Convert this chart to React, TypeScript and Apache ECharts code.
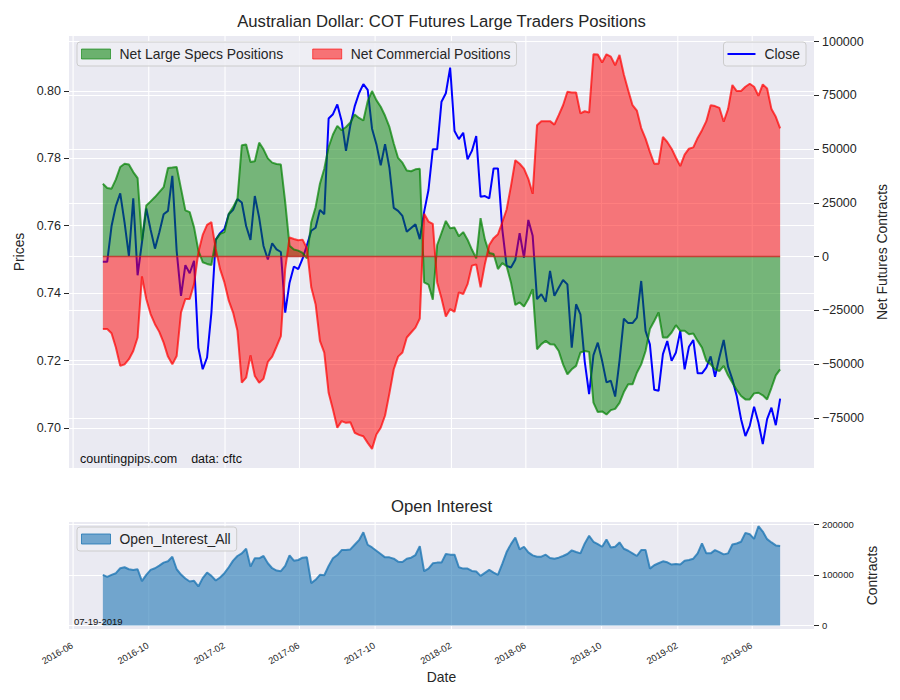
import React, { useEffect, useRef } from "react";
import * as echarts from "echarts";

// ---------------- data ----------------
const firstWeek = "2016-07-19";
const weekCount = 157;

const closeValues = [
  0.7493, 0.7493, 0.7599, 0.7659, 0.7696, 0.7609, 0.751, 0.7681, 0.7453, 0.755,
  0.7651, 0.7588, 0.7532, 0.758, 0.7634, 0.7644, 0.7748, 0.7525, 0.7392, 0.7483,
  0.7459, 0.7496, 0.7238, 0.7174, 0.7209, 0.7342, 0.7558, 0.7578, 0.759, 0.7634,
  0.7647, 0.7679, 0.7669, 0.7599, 0.7558, 0.7688, 0.7624, 0.754, 0.75, 0.7548,
  0.753, 0.7522, 0.7342, 0.7431, 0.7479, 0.7471, 0.7502, 0.7542, 0.7585, 0.7594,
  0.7647, 0.7634, 0.7918, 0.7931, 0.796, 0.7911, 0.7822, 0.7898, 0.7954, 0.7993,
  0.802, 0.8003, 0.7888, 0.7842, 0.7779, 0.7842, 0.7772, 0.7653, 0.7644, 0.7629,
  0.7582, 0.7593, 0.7604, 0.756, 0.7641, 0.7706, 0.7827, 0.7827, 0.7968, 0.7993,
  0.8069, 0.7881, 0.7857, 0.7876, 0.7797, 0.7822, 0.7866, 0.7686, 0.7688, 0.7681,
  0.777, 0.777, 0.759, 0.7481, 0.7476, 0.7499, 0.7578, 0.7505, 0.7617, 0.757,
  0.7382, 0.7397, 0.7374, 0.7466, 0.7392, 0.7416, 0.7439, 0.7426, 0.7238, 0.7367,
  0.7337, 0.7196, 0.71, 0.7216, 0.7253, 0.7199, 0.7135, 0.714, 0.7093, 0.7199,
  0.7324, 0.7311, 0.7311, 0.7327, 0.7436, 0.7288, 0.7248, 0.7113, 0.711, 0.7219,
  0.7258, 0.7199, 0.7224, 0.7288, 0.7174, 0.7241, 0.7261, 0.7162, 0.7162, 0.7179,
  0.7212, 0.7152, 0.7209, 0.7261, 0.7182, 0.7144, 0.7095, 0.7026, 0.6976, 0.7006,
  0.7063, 0.7016, 0.6952, 0.7026, 0.706, 0.7008, 0.7087,
];

const specsValues = [
  33900, 31900, 31600, 35900, 41700, 43200, 42800, 39300, 36500, 7500,
  23800, 25700, 27700, 30000, 32300, 41200, 41400, 41700, 31600, 21500,
  20700, 13700, 2800, -2600, -3400, -3900, 7900, 10600, 11400, 19900,
  23000, 26900, 51800, 52100, 44000, 44300, 53000, 49900, 45700, 43700,
  43100, 42800, 25300, 5100, 3300, 2800, 1700, -800, 16000, 23000,
  33900, 40900, 51000, 56800, 60800, 58800, 60300, 62400, 66100, 64500,
  63300, 72300, 77000, 72800, 69700, 65500, 60300, 52600, 45900, 43700,
  40100, 39700, 40600, 40900, -12000, -13000, -20000, 5400, 11000, 16600,
  13200, 13500, 9500, 11400, 7900, 3300, -800, 17900, 7900, 1700,
  1200, -5800, -3000, -4500, -12000, -22500, -21300, -23200, -19700, -15100,
  -43100, -40700, -39200, -40700, -40900, -43900, -50100, -54700, -52400, -50800,
  -44600, -43900, -44300, -67900, -72300, -72000, -73400, -71400, -70800, -68000,
  -63000, -59400, -59400, -54000, -50100, -43900, -33700, -29900, -26000, -37600,
  -37600, -35300, -31900, -34500, -34500, -36100, -35800, -39200, -42300, -48500,
  -50100, -52400, -53200, -50800, -55200, -58600, -62000, -64800, -66400, -66400,
  -63600, -63300, -64500, -66400, -61000, -55200, -52400,
];

const commercialValues = [
  -33700, -33700, -35600, -42300, -50800, -50100, -47700, -43900, -37600, -9200,
  -19700, -26700, -31400, -35000, -40000, -46500, -50100, -46200, -26000, -19700,
  -19700, -12800, 2000, 10100, 14800, 16000, 3600, -5800, -12000, -20500,
  -26000, -34500, -58600, -56300, -45900, -55500, -58600, -56800, -49000, -46500,
  -41800, -37000, -5800, 8900, 8200, 7600, 7900, 3900, -14300, -22100,
  -39200, -44600, -63300, -71100, -79600, -76500, -77300, -77000, -81900, -82900,
  -83500, -86600, -89400, -82700, -79600, -73900, -63600, -52400, -46500, -44600,
  -37600, -35300, -33000, -28800, 19900, 16300, 15200, -12000, -19400, -27800,
  -24400, -25700, -16600, -17400, -12800, -4200, -3600, -14300, -3400, 5400,
  8600, 10400, 16000, 21900, 32800, 44800, 43200, 40900, 36200, 29200,
  61100, 63000, 63000, 63000, 61400, 65800, 70400, 76700, 76300, 76300,
  66600, 67600, 67000, 94100, 94000, 90300, 94100, 93000, 89000, 93800,
  84700, 77400, 70400, 67900, 59800, 54900, 48700, 43200, 43200, 55700,
  53300, 50200, 46000, 42100, 47400, 50200, 50800, 55200, 58800, 63000,
  70400, 70000, 69200, 62700, 68600, 79800, 77000, 77000, 79000, 80400,
  79000, 74800, 80100, 78200, 68600, 65000, 59600,
];

const openInterestValues = [
  100000, 96100, 100000, 103300, 113100, 115000, 111100, 109800, 111100, 87600,
  100000, 109800, 113100, 118300, 124200, 126800, 135900, 111100, 100700, 92800,
  86900, 88200, 77100, 93500, 104600, 98000, 88900, 94800, 103300, 115000,
  128100, 137300, 142500, 151600, 116300, 132700, 132700, 137300, 122900, 113100,
  108500, 107200, 117600, 138600, 128100, 129400, 134000, 134600, 83700, 90200,
  100000, 99300, 117600, 132700, 139200, 149000, 149000, 150300, 159500, 168600,
  184300, 159500, 154200, 147700, 141200, 134600, 134600, 132000, 126100, 125500,
  132000, 134000, 139200, 156900, 107200, 112400, 122900, 124200, 124200, 141200,
  140000, 139900, 115000, 112400, 112400, 107800, 106500, 98000, 103900, 109800,
  104600, 100000, 121600, 145100, 160800, 173900, 150300, 155600, 144400, 138600,
  135900, 135900, 139900, 133300, 132000, 134000, 137300, 141200, 148400, 145100,
  142500, 162100, 177100, 165400, 160800, 155600, 169900, 154200, 155600, 164100,
  151600, 147700, 142500, 137300, 149000, 149000, 112400, 119000, 122900, 126800,
  124800, 120300, 121600, 120300, 128100, 129400, 132000, 142500, 162100, 142500,
  142500, 149000, 145100, 140500, 142500, 160100, 162100, 165400, 183000, 180400,
  171200, 196100, 185600, 170600, 164100, 158200, 156900,
];

const xTickDates = [
  "2016-06-01", "2016-10-01", "2017-02-01", "2017-06-01", "2017-10-01",
  "2018-02-01", "2018-06-01", "2018-10-01", "2019-02-01", "2019-06-01",
];
const xTickLabels = [
  "2016-06", "2016-10", "2017-02", "2017-06", "2017-10",
  "2018-02", "2018-06", "2018-10", "2019-02", "2019-06",
];
const priceTicks = [0.7, 0.72, 0.74, 0.76, 0.78, 0.8];
const contractTicks = [-75000, -50000, -25000, 0, 25000, 50000, 75000, 100000];
const oiTicks = [0, 100000, 200000];

// ---------------- helpers ----------------
const DAY = 86400000;
const toTs = (s: string) => {
  const [y, m, d] = s.split("-").map(Number);
  return Date.UTC(y, m - 1, d);
};
const weekDates = Array.from({ length: weekCount }, (_, i) => toTs(firstWeek) + i * 7 * DAY);
const span = weekDates[weekDates.length - 1] - weekDates[0];
const xMin = weekDates[0] - 0.05 * span;
const xMax = weekDates[weekDates.length - 1] + 0.05 * span;
const tickTs = xTickDates.map(toTs);
const fmtSigned = (v: number) => (v < 0 ? "\u2212" + Math.abs(v) : String(v));

const FONT = '"Liberation Sans", Arial, sans-serif';
const TXT = "#262626";
const BG = "#EAEAF2";
const WHITE_LINE = { lineStyle: { color: "#ffffff", width: 1.1 } };

function xGridSeries(xAxisIndex: number, yAxisIndex: number, withLabels: boolean): any {
  return {
    type: "custom",
    xAxisIndex,
    yAxisIndex,
    z: 1,
    silent: true,
    clip: false,
    data: tickTs.map((t) => [t, 0]),
    encode: { x: 0, y: 1 },
    renderItem: (params: any, api: any) => {
      const cs = params.coordSys;
      const x = api.coord([api.value(0), api.value(1)])[0];
      const children: any[] = [
        {
          type: "line",
          shape: { x1: x, y1: cs.y, x2: x, y2: cs.y + cs.height },
          style: { stroke: "#ffffff", lineWidth: 1.1 },
        },
      ];
      if (withLabels) {
        children.push({
          type: "text",
          x: x - 3,
          y: cs.y + cs.height + 12,
          rotation: Math.PI / 6,
          style: {
            text: xTickLabels[params.dataIndex],
            fontSize: 9.3,
            fontFamily: FONT,
            fill: TXT,
            align: "right",
            verticalAlign: "top",
          },
        });
      }
      return { type: "group", children };
    },
  };
}

function buildOption(): any {
  const pair = (vals: number[]) => weekDates.map((d, i) => [d, vals[i]]);
  const legendBase = {
    orient: "horizontal",
    itemHeight: 10,
    itemWidth: 29,
    backgroundColor: "rgba(238,238,244,0.85)",
    borderColor: "#CCCCCC",
    borderWidth: 1,
    borderRadius: 3,
    selectedMode: false,
    textStyle: { fontSize: 13.9, color: TXT, fontFamily: FONT, padding: [0, 0, 0, 4] },
  };
  const hiddenX = (gridIndex: number) => ({
    type: "time", gridIndex, min: xMin, max: xMax,
    axisLine: { show: false },
    axisTick: { show: false },
    axisLabel: { show: false },
    splitLine: { show: false },
  });
  return {
    animation: false,
    backgroundColor: "#ffffff",
    textStyle: { fontFamily: FONT },
    grid: [
      { left: 69, top: 36, width: 745, height: 432, show: true, backgroundColor: BG, borderWidth: 0 },
      { left: 69, top: 522, width: 745, height: 107, show: true, backgroundColor: BG, borderWidth: 0 },
    ],
    xAxis: [
      hiddenX(0),
      {
        ...hiddenX(1),
        name: "Date", nameLocation: "middle", nameGap: 41,
        nameTextStyle: { fontSize: 13.9, color: TXT, fontFamily: FONT },
      },
    ],
    yAxis: [
      {
        type: "value", gridIndex: 0, position: "left", min: 0.6881, max: 0.8163,
        axisLine: { show: false },
        axisTick: { show: true, length: 5, customValues: priceTicks, lineStyle: { color: TXT, width: 1 } },
        axisLabel: { customValues: priceTicks, formatter: (v: number) => v.toFixed(2), fontSize: 12.5, color: TXT, fontFamily: FONT, margin: 8 },
        splitLine: { show: true, ...WHITE_LINE },
        name: "Prices", nameLocation: "middle", nameGap: 41, nameRotate: 90,
        nameTextStyle: { fontSize: 13.9, color: TXT, fontFamily: FONT },
      },
      {
        type: "value", gridIndex: 0, position: "right", min: -98300, max: 102600,
        axisLine: { show: false },
        axisTick: { show: true, length: 5, customValues: contractTicks, lineStyle: { color: TXT, width: 1 } },
        axisLabel: { customValues: contractTicks, formatter: (v: number) => fmtSigned(v), fontSize: 12.5, color: TXT, fontFamily: FONT, margin: 8 },
        splitLine: { show: true, ...WHITE_LINE },
        name: "Net Futures Contracts", nameLocation: "middle", nameGap: 54, nameRotate: 90,
        nameTextStyle: { fontSize: 13.9, color: TXT, fontFamily: FONT },
      },
      {
        type: "value", gridIndex: 1, position: "right", min: -7000, max: 204500,
        axisLine: { show: false },
        axisTick: { show: true, length: 5, customValues: oiTicks, lineStyle: { color: TXT, width: 1 } },
        axisLabel: { customValues: oiTicks, formatter: (v: number) => String(v), fontSize: 9.5, color: TXT, fontFamily: FONT, margin: 8 },
        splitLine: { show: true, ...WHITE_LINE },
        name: "Contracts", nameLocation: "middle", nameGap: 46, nameRotate: 90,
        nameTextStyle: { fontSize: 13.9, color: TXT, fontFamily: FONT },
      },
    ],
    legend: [
      {
        ...legendBase, left: 77, top: 42, padding: [5, 6, 5, 4], itemGap: 29,
        data: [
          { name: "Net Large Specs Positions", icon: "rect", itemStyle: { color: "rgba(0,128,0,0.55)", borderColor: "rgba(0,128,0,0.6)", borderWidth: 1 } },
          { name: "Net Commercial Positions", icon: "rect", itemStyle: { color: "rgba(255,0,0,0.52)", borderColor: "rgba(255,0,0,0.6)", borderWidth: 1 } },
        ],
      },
      {
        ...legendBase, right: 94, top: 42, padding: [5, 6, 5, 4], itemWidth: 28, itemHeight: 2,
        data: [{ name: "Close", icon: "rect", itemStyle: { color: "#0000ff", borderWidth: 0 } }],
      },
      {
        ...legendBase, left: 77, top: 527, padding: [5, 6, 5, 4],
        data: [{ name: "Open_Interest_All", icon: "rect", itemStyle: { color: "rgba(31,119,180,0.6)", borderColor: "rgba(31,119,180,0.8)", borderWidth: 1 } }],
      },
    ],
    graphic: [
      { type: "text", x: 441.5, y: 21, z: 10, style: { text: "Australian Dollar: COT Futures Large Traders Positions", fontSize: 16.7, fill: TXT, fontFamily: FONT, textAlign: "center", textVerticalAlign: "middle" } },
      { type: "text", x: 441.5, y: 506, z: 10, style: { text: "Open Interest", fontSize: 16.7, fill: TXT, fontFamily: FONT, textAlign: "center", textVerticalAlign: "middle" } },
      { type: "text", x: 80, y: 459, z: 10, style: { text: "countingpips.com    data: cftc", fontSize: 12.5, fill: "#111111", fontFamily: FONT, textAlign: "left", textVerticalAlign: "middle" } },
      { type: "text", x: 74, y: 621, z: 10, style: { text: "07-19-2019", fontSize: 9.5, fill: "#111111", fontFamily: FONT, textAlign: "left", textVerticalAlign: "middle" } },
    ],
    series: [
      xGridSeries(0, 1, false),
      xGridSeries(1, 2, true),
      {
        name: "Close", type: "line", xAxisIndex: 0, yAxisIndex: 0, data: pair(closeValues),
        symbol: "none", z: 2, lineStyle: { color: "#0000ff", width: 2 }, itemStyle: { color: "#0000ff" },
      },
      {
        name: "Net Large Specs Positions", type: "line", xAxisIndex: 0, yAxisIndex: 1, data: pair(specsValues),
        symbol: "none", z: 3, lineStyle: { color: "#008000", opacity: 0.7, width: 2 },
        itemStyle: { color: "#008000" }, areaStyle: { color: "#008000", opacity: 0.5, origin: "auto" },
      },
      {
        name: "Net Commercial Positions", type: "line", xAxisIndex: 0, yAxisIndex: 1, data: pair(commercialValues),
        symbol: "none", z: 3, lineStyle: { color: "#ff0000", opacity: 0.7, width: 2 },
        itemStyle: { color: "#ff0000" }, areaStyle: { color: "#ff0000", opacity: 0.5, origin: "auto" },
      },
      {
        name: "baseline", type: "line", xAxisIndex: 0, yAxisIndex: 1, data: weekDates.map((d) => [d, 0]),
        symbol: "none", z: 4, silent: true, lineStyle: { color: "#be281e", opacity: 0.8, width: 1.5 },
      },
      {
        name: "Open_Interest_All", type: "line", xAxisIndex: 1, yAxisIndex: 2, data: pair(openInterestValues),
        symbol: "none", z: 3, lineStyle: { color: "#1f77b4", opacity: 0.8, width: 2 },
        itemStyle: { color: "#1f77b4" }, areaStyle: { color: "#1f77b4", opacity: 0.6, origin: "auto" },
      },
    ],
  };
}

export default function App() {
  const ref = useRef<HTMLDivElement>(null);
  useEffect(() => {
    if (!ref.current) return;
    const chart = echarts.init(ref.current, null, { renderer: "svg" });
    chart.setOption(buildOption());
    return () => chart.dispose();
  }, []);
  return (
    <div
      ref={ref}
      style={{ position: "absolute", left: 0, top: 0, width: 900, height: 700, background: "#ffffff" }}
    />
  );
}
